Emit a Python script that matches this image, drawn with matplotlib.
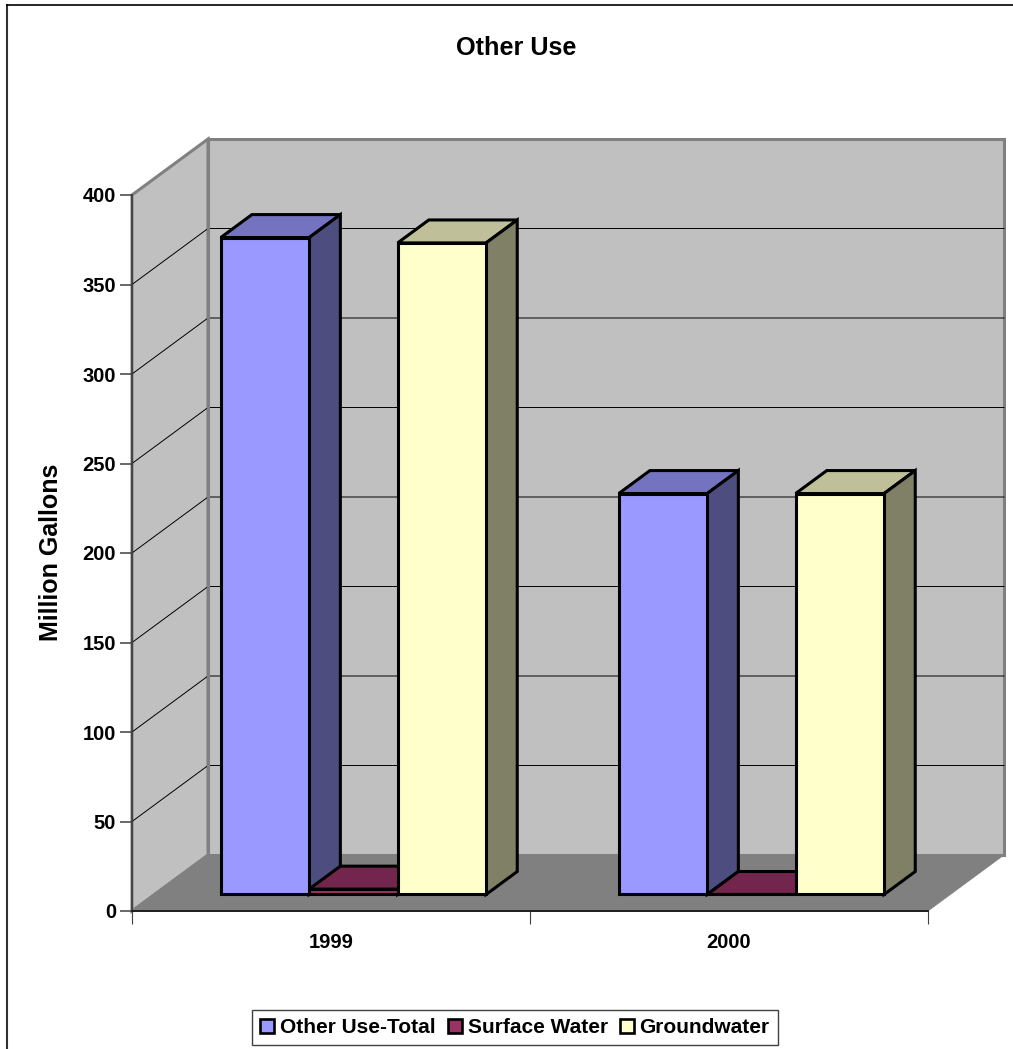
#!/usr/bin/env python
"""Other Use: water withdrawals by source, drawn as a sheared 3D column chart."""
import matplotlib
matplotlib.use("Agg")
import matplotlib.pyplot as plt
from matplotlib.lines import Line2D
from matplotlib.patches import Patch, Polygon

years = ["1999", "2000"]
series = ["Other Use-Total", "Surface Water", "Groundwater"]
total = [367, 224]
surface = [3, 0]
ground = [364, 224]
front_cols = ["#9999FF", "#993366", "#FFFFCC"]
top_cols = ["#7373BF", "#73264D", "#BFBF99"]
side_cols = ["#4D4D80", "#4D1A33", "#808066"]
yticks = [0, 50, 100, 150, 200, 250, 300, 350, 400]

W, H = 1013, 1049
plt.rcParams["font.family"] = ["Liberation Sans", "DejaVu Sans"]
plt.rcParams["font.weight"] = "bold"

fig = plt.figure(figsize=(W / 100, H / 100), dpi=100)
ax = fig.add_axes([132 / W, 1 - 911 / H, 796 / W, 716 / H])
ax.set_xlim(0, 2)
ax.set_ylim(0, 400)

# depth runs up and to the right: one full unit is 76 px across, 56 px up
DX = 76 / 398
DY = 56 / 1.79


def pt(x, v, d):
    return (x + d * DX, v + d * DY)


def poly(points, **kw):
    p = Polygon([pt(*q) for q in points], closed=True, clip_on=False, **kw)
    ax.add_patch(p)


# walls and floor
wall = dict(facecolor="#C0C0C0", edgecolor="#808080", lw=2.2, joinstyle="miter")
poly([(0, 0, 1), (2, 0, 1), (2, 400, 1), (0, 400, 1)], zorder=1, **wall)
poly([(0, 0, 0), (0, 0, 1), (0, 400, 1), (0, 400, 0)], zorder=1, **wall)
poly([(0, 0, 0), (2, 0, 0), (2, 0, 1), (0, 0, 1)], zorder=1.5,
     facecolor="#808080", edgecolor="#808080", lw=0.5)

# gridlines run along the side wall, then across the back wall
for v in yticks[1:-1]:
    a, b, c = pt(0, v, 0), pt(0, v, 1), pt(2, v, 1)
    ax.plot([a[0], b[0], c[0]], [a[1], b[1], c[1]], color="black", lw=0.7,
            zorder=2, clip_on=False, solid_joinstyle="miter")
a, b = pt(0, 0, 1), pt(0, 400, 1)
ax.plot([a[0], b[0]], [a[1], b[1]], color="#808080", lw=2.2, zorder=2.5, clip_on=False)

# columns
bar_w = 2 / 9
d0, d1 = 0.295, 0.705
edge = dict(edgecolor="black", lw=2.2, joinstyle="miter", zorder=3)
for i in range(len(years)):
    for j, vals in enumerate([total, surface, ground]):
        x0 = i + 1 / 6 + j * bar_w
        x1 = x0 + bar_w
        v = vals[i]
        poly([(x0, v, d0), (x1, v, d0), (x1, v, d1), (x0, v, d1)],
             facecolor=top_cols[j], **edge)
        poly([(x1, 0, d0), (x1, 0, d1), (x1, v, d1), (x1, v, d0)],
             facecolor=side_cols[j], **edge)
        poly([(x0, 0, d0), (x1, 0, d0), (x1, v, d0), (x0, v, d0)],
             facecolor=front_cols[j], **edge)

# axes
for s in ("top", "right"):
    ax.spines[s].set_visible(False)
ax.spines["left"].set_color("#404040")
ax.spines["left"].set_linewidth(1.3)
ax.spines["bottom"].set_color("#202020")
ax.spines["bottom"].set_linewidth(1.4)
ax.spines["left"].set_zorder(4)
ax.spines["bottom"].set_zorder(4)
ax.patch.set_visible(False)
ax.set_yticks(yticks)
ax.tick_params(axis="y", length=8.6, width=1.1, color="#404040", labelsize=14.5, pad=2.9)
ax.set_xticks([0, 1, 2])
ax.set_xticklabels([])
ax.set_xticks([0.5, 1.5], minor=True)
ax.set_xticklabels(years, minor=True)
ax.tick_params(axis="x", which="major", length=9, width=0.8, color="#404040")
ax.tick_params(axis="x", which="minor", length=0, labelsize=14.5, pad=16)
ax.set_axisbelow(False)

fig.text(516.5 / W, 1 - 48 / H, "Other Use", ha="center", va="center", fontsize=18.2, fontweight="bold")
fig.text(51 / W, 1 - 552 / H, "Million Gallons", rotation=90, ha="center", va="center",
         fontsize=18, fontweight="bold")

handles = [Patch(facecolor=c, edgecolor="black", lw=1.9) for c in front_cols]
fig.legend(handles, series, ncol=3, loc="center", bbox_to_anchor=(515 / W, 1 - 1027.5 / H),
           fontsize=15, frameon=True, fancybox=False, edgecolor="#404040", framealpha=1,
           handlelength=0.68, handleheight=0.68, handletextpad=0.27, columnspacing=0.58,
           borderpad=0.4, borderaxespad=0)

# outer chart frame: open on the right and at the bottom
fig.add_artist(Line2D([6.5 / W, 6.5 / W], [0, 1 - 4.5 / H], color="#303030", lw=1.5))
fig.add_artist(Line2D([6.5 / W, 1], [1 - 4.5 / H, 1 - 4.5 / H], color="black", lw=1.2))

fig.savefig("out.png", dpi=100)
